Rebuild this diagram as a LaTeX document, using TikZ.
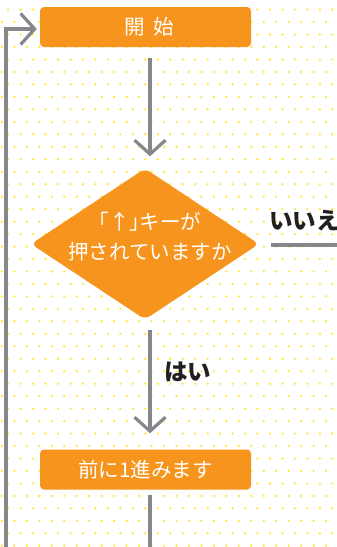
\documentclass[tikz,border=0pt]{standalone}
\usepackage{fontspec}
\setmainfont{Noto Sans CJK JP}
\usetikzlibrary{shapes.geometric,arrows.meta}
\definecolor{orng}{HTML}{F7941D}
\definecolor{arrgrey}{HTML}{86878A}
\definecolor{dotc}{HTML}{FFE93A}
\definecolor{labc}{HTML}{231F20}
\begin{document}
\begin{tikzpicture}[x=1pt,y=1pt,
  procbox/.style={fill=orng, rounded corners=4pt, minimum width=211pt, minimum height=40pt, inner sep=0pt, text=white, font=\fontsize{20.5}{24}\selectfont},
  decbox/.style={diamond, fill=orng, rounded corners=6pt, minimum width=228pt, minimum height=151pt, inner sep=0pt, aspect=1.5},
  dectxt/.style={text=white, align=center, inner sep=0pt, font=\fontsize{20.5}{30}\selectfont},
  conn/.style={draw=arrgrey, line width=3.2pt},
  arr/.style={conn, -{Straight Barb[length=14pt,width=31pt]}},
  anslabel/.style={text=labc, inner sep=0pt, font=\bfseries\fontsize{23.5}{26}\selectfont},
]
\useasboundingbox (0,0) rectangle (337,-547);
\clip (0,0) rectangle (337,-547);
\fill[white] (0,0) rectangle (337,-547);
% dotted background
\foreach \j in {-1,...,44}{
  \foreach \i in {-1,...,27}{
    \fill[dotc] ({8.13+12.47*\i-6.235*mod(\j+2,2)}, {-9.6-12.47*\j}) circle (1.3pt);
  }
}
% nodes
\node[procbox] (start) at (145.5,-27) {\hspace*{7pt}開\hspace{9pt}始};
\node[decbox] (dec) at (145,-244) {};
\node[dectxt] (dectext) at (150,-237) {{\addfontfeature{RawFeature=+palt}「↑」}キーが\\押されていますか};
\node[procbox] (fwd) at (145.5,-469.5) {前に1進みます};
\node[anslabel, anchor=west] (no) at (269,-221) {いいえ};
\node[anslabel, anchor=west] (yes) at (164,-372) {はい};
\coordinate (noend) at (345,-245);
\coordinate (bot) at (150,-552);
\coordinate (loopstart) at (6,-552);
% connectors
\draw[arr, shorten <=11pt, shorten >=12pt] ([xshift=4.5pt]start.south) -- ([xshift=5pt]dec.north);
\draw[arr, shorten <=10pt, shorten >=16pt] ([xshift=5pt]dec.south) -- ([xshift=4.5pt]fwd.north);
\draw[conn, shorten <=5pt] ([xshift=4.5pt]fwd.south) -- (bot);
\draw[conn, shorten <=12pt] ([yshift=-1pt]dec.east) -- (noend);
\draw[arr, shorten >=3pt] (loopstart) |- ([yshift=-2pt]start.west);
\end{tikzpicture}
\end{document}
